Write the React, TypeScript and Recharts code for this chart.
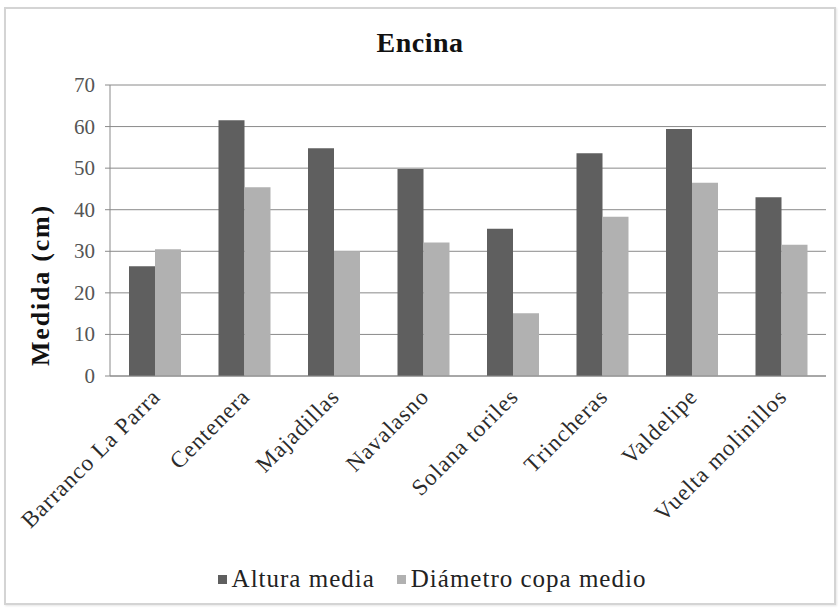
import { BarChart, Bar, XAxis, YAxis, CartesianGrid, Legend } from "recharts";

const categories = [
  "Barranco La Parra",
  "Centenera",
  "Majadillas",
  "Navalasno",
  "Solana toriles",
  "Trincheras",
  "Valdelipe",
  "Vuelta molinillos",
];
const alturaMedia = [26.4, 61.5, 54.8, 49.8, 35.4, 53.6, 59.4, 43.0];
const diametroCopaMedio = [30.5, 45.4, 30.0, 32.1, 15.1, 38.3, 46.5, 31.6];
const yTicks = [0, 10, 20, 30, 40, 50, 60, 70];

const seriesNames = ["Altura media", "Diámetro copa medio"];
const seriesColors = ["#5f5f5f", "#b1b1b1"];

const data = categories.map((name, i) => ({
  name,
  altura: alturaMedia[i],
  diametro: diametroCopaMedio[i],
}));

const FONT = "Liberation Serif, DejaVu Serif, serif";
const CSS_FONT = '"Liberation Serif", "DejaVu Serif", serif';

const XTick = ({ x, y, payload }: any) => (
  <text
    x={x + 7}
    y={y + 14}
    transform={`rotate(-45, ${x + 7}, ${y + 14})`}
    textAnchor="end"
    fontFamily={FONT}
    fontSize={23}
    letterSpacing={1}
    fill="#2b2b2b"
  >
    {payload.value}
  </text>
);

const YTick = ({ x, y, payload }: any) => (
  <text x={x} y={y} dy={7} textAnchor="end" fontFamily={FONT} fontSize={21} fill="#555">
    {payload.value}
  </text>
);

const YLabel = () => (
  <text
    x={49}
    y={285}
    transform="rotate(-90, 49, 285)"
    textAnchor="middle"
    fontFamily={FONT}
    fontWeight="bold"
    fontSize={26}
    letterSpacing={1.8}
    fill="#111"
  >
    Medida (cm)
  </text>
);

const LegendContent = () => (
  <div
    style={{
      display: "flex",
      justifyContent: "center",
      alignItems: "center",
      fontFamily: CSS_FONT,
      fontSize: 25,
      letterSpacing: 1,
      color: "#222",
      paddingLeft: 38,
    }}
  >
    {seriesNames.map((n, i) => (
      <span key={n} style={{ display: "flex", alignItems: "center", marginRight: i === 0 ? 22 : 0 }}>
        <span style={{ width: 9, height: 9, background: seriesColors[i], marginRight: 5, display: "inline-block" }} />
        {n}
      </span>
    ))}
  </div>
);

export default function App() {
  return (
    <div style={{ position: "absolute", left: 0, top: 0, width: 840, height: 608, background: "#fff" }}>
      <div
        style={{
          position: "absolute",
          left: 4,
          top: 7,
          width: 828,
          height: 594,
          border: "2px solid #d4d4d4",
          boxShadow: "1px 1px 2px #e6e6e6",
        }}
      />
      <div
        style={{
          position: "absolute",
          left: 0,
          top: 27,
          width: 840,
          textAlign: "center",
          fontFamily: CSS_FONT,
          fontWeight: "bold",
          fontSize: 28,
          letterSpacing: 0.5,
          color: "#111",
          paddingRight: 4,
        }}
      >
        Encina
      </div>
      <div style={{ position: "absolute", left: 0, top: 0 }}>
        <BarChart
          width={840}
          height={608}
          data={data}
          margin={{ top: 85, right: 14, left: 0, bottom: 13 }}
          barGap={0}
          barSize={26}
        >
          <CartesianGrid vertical={false} stroke="#8a8a8a" strokeWidth={1} />
          <XAxis
            dataKey="name"
            interval={0}
            height={189}
            tickLine={false}
            axisLine={{ stroke: "#8a8a8a" }}
            tick={<XTick />}
          />
          <YAxis
            width={110}
            domain={[0, 70]}
            ticks={yTicks}
            interval={0}
            tickSize={5}
            tickMargin={10}
            axisLine={{ stroke: "#8a8a8a" }}
            tickLine={{ stroke: "#8a8a8a" }}
            tick={<YTick />}
            label={<YLabel />}
          />
          <Legend verticalAlign="bottom" height={30} content={<LegendContent />} />
          <Bar dataKey="altura" name={seriesNames[0]} fill={seriesColors[0]} isAnimationActive={false} />
          <Bar dataKey="diametro" name={seriesNames[1]} fill={seriesColors[1]} isAnimationActive={false} />
        </BarChart>
      </div>
    </div>
  );
}
